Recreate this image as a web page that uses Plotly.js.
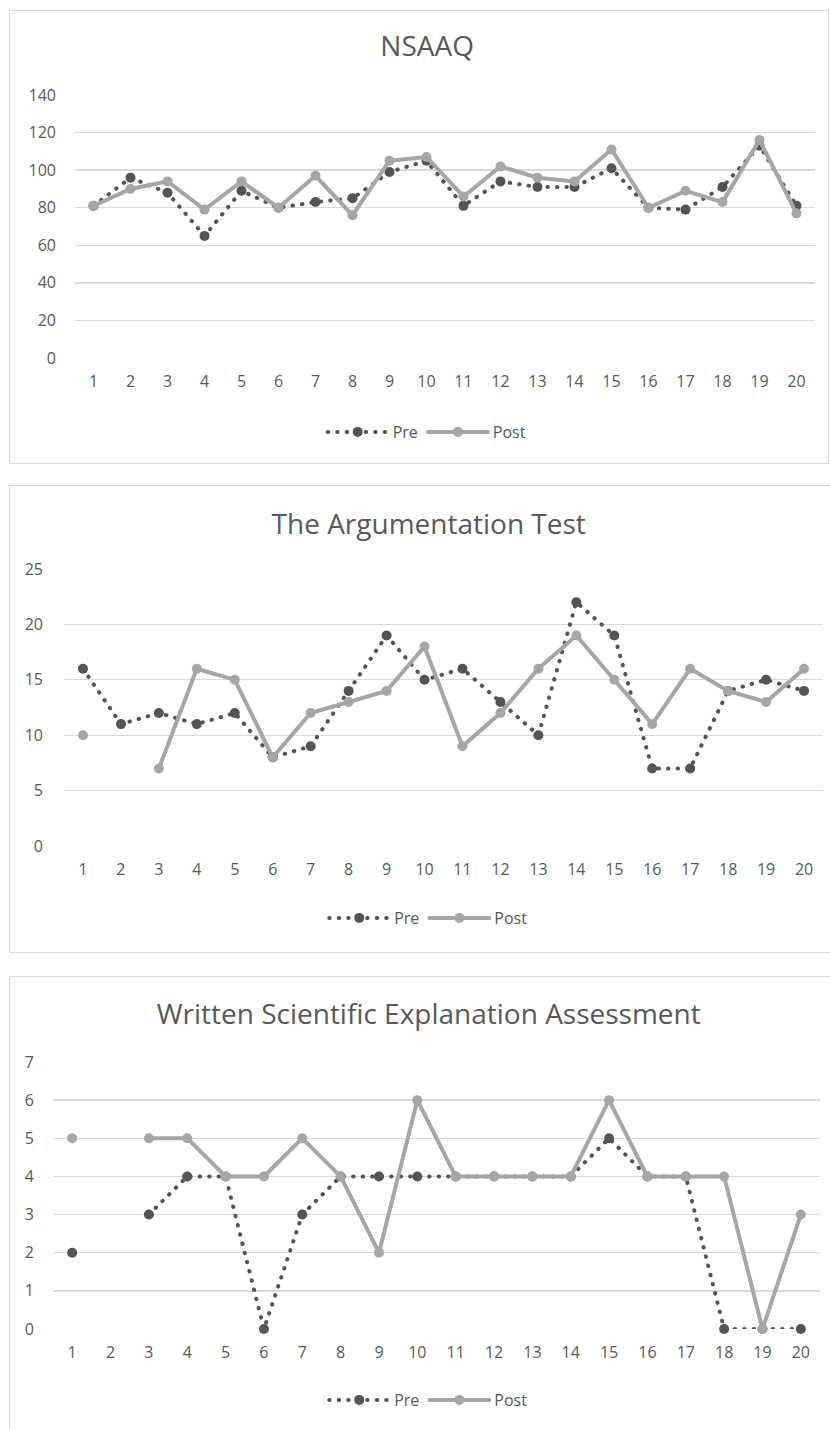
<!DOCTYPE html>
<html>
<head>
<meta charset="utf-8">
<script src="https://cdn.plot.ly/plotly-3.0.1.min.js"></script>
<style>
  html, body { margin: 0; padding: 0; background: #ffffff; width: 830px; height: 1429px; overflow: hidden; }
  .panel { position: absolute; box-sizing: border-box; border: 1px solid #d9d9d9; background: #fff; }
  .js-line { stroke-linecap: round; }
</style>
</head>
<body>
<div id="p1" class="panel" style="left:9px; top:10px; width:820px; height:454px;"></div>
<div id="p2" class="panel" style="left:9px; top:485px; width:823px; height:468px;"></div>
<div id="p3" class="panel" style="left:9px; top:976px; width:823px; height:462px;"></div>
<script>
// ---- Data ----
const students = [1,2,3,4,5,6,7,8,9,10,11,12,13,14,15,16,17,18,19,20];

const nsaaqTitle = "NSAAQ";
const nsaaqPre  = [81, 96, 88, 65, 89, 80, 83, 85, 99, 105, 81, 94, 91, 91, 101, 80, 79, 91, 113, 81];
const nsaaqPost = [81, 90, 94, 79, 94, 80, 97, 76, 105, 107, 86, 102, 96, 94, 111, 80, 89, 83, 116, 77];
const nsaaqTicks = [0, 20, 40, 60, 80, 100, 120, 140];

const argTitle = "The Argumentation Test";
const argPre  = [16, 11, 12, 11, 12, 8, 9, 14, 19, 15, 16, 13, 10, 22, 19, 7, 7, 14, 15, 14];
const argPost = [10, null, 7, 16, 15, 8, 12, 13, 14, 18, 9, 12, 16, 19, 15, 11, 16, 14, 13, 16];
const argTicks = [0, 5, 10, 15, 20, 25];

const wseaTitle = "Written Scientific Explanation Assessment";
const wseaPre  = [2, null, 3, 4, 4, 0, 3, 4, 4, 4, 4, 4, 4, 4, 5, 4, 4, 0, 0, 0];
const wseaPost = [5, null, 5, 5, 4, 4, 5, 4, 2, 6, 4, 4, 4, 4, 6, 4, 4, 4, 0, 3];
const wseaTicks = [0, 1, 2, 3, 4, 5, 6, 7];

const seriesNames = ["Pre", "Post"];

// ---- Styling ----
const FONT = "Open Sans, Liberation Sans, sans-serif";
const TXT = "#595959";
const PRE_COLOR = "#545454";
const POST_COLOR = "#a6a6a6";
const GRID = "#d9d9d9";

function draw(id, title, pre, post, ticks, geom) {
  const traces = [
    {
      x: students, y: pre, name: seriesNames[0], type: "scatter", mode: "lines+markers",
      line: { color: PRE_COLOR, width: 4, dash: "0.5px,9px" },
      marker: { color: PRE_COLOR, size: 10, symbol: "circle" },
      connectgaps: false, cliponaxis: false
    },
    {
      x: students, y: post, name: seriesNames[1], type: "scatter", mode: "lines+markers",
      line: { color: POST_COLOR, width: 4 },
      marker: { color: POST_COLOR, size: 10, symbol: "circle" },
      connectgaps: false, cliponaxis: false
    }
  ];
  const layout = {
    width: geom.w, height: geom.h,
    margin: { l: geom.l, r: geom.r, t: geom.t, b: geom.b, pad: 0 },
    paper_bgcolor: "rgba(0,0,0,0)", plot_bgcolor: "rgba(0,0,0,0)",
    font: { family: FONT, color: TXT, size: 15 },
    title: {
      text: title, font: { family: "Open Sans, sans-serif", size: 28, color: TXT },
      xref: "container", x: geom.tx, xanchor: "center",
      yref: "container", y: 1 - geom.ty / geom.h, yanchor: "middle"
    },
    xaxis: {
      type: "linear", range: [0.5, 20.5], tickmode: "array", tickvals: students, ticktext: students.map(String),
      showgrid: false, zeroline: false, showline: false, ticks: "", ticklabelstandoff: 12,
      tickfont: { family: FONT, size: 16, color: TXT }, fixedrange: true
    },
    yaxis: {
      range: [ticks[0], ticks[ticks.length - 1]], tickmode: "array", tickvals: ticks,
      showgrid: true, gridcolor: GRID, gridwidth: 1.3, zeroline: false, showline: false, ticks: "",
      ticklabelstandoff: geom.ys, tickfont: { family: FONT, size: 16, color: TXT }, fixedrange: true
    },
    showlegend: true,
    legend: {
      orientation: "h", xref: "container", x: geom.lx, xanchor: "center",
      yref: "container", y: 1 - geom.ly / geom.h, yanchor: "middle",
      font: { family: FONT, size: 16, color: TXT }, itemwidth: 60, traceorder: "normal",
      bgcolor: "rgba(0,0,0,0)"
    }
  };
  Plotly.newPlot(id, traces, layout, { staticPlot: true, displayModeBar: false });
}

draw("p1", nsaaqTitle, nsaaqPre, nsaaqPost, nsaaqTicks,
  { w: 818, h: 452, l: 65, r: 13, t: 84, b: 105, tx: 0.51, ty: 35, lx: 0.51, ly: 421, ys: 18 });
draw("p2", argTitle, argPre, argPost, argTicks,
  { w: 821, h: 466, l: 54, r: 8, t: 83, b: 106, tx: 0.51, ty: 38, lx: 0.51, ly: 432, ys: 20 });
draw("p3", wseaTitle, wseaPre, wseaPost, wseaTicks,
  { w: 821, h: 460, l: 43, r: 11, t: 85, b: 108, tx: 0.51, ty: 37, lx: 0.51, ly: 423, ys: 18 });
</script>
</body>
</html>
